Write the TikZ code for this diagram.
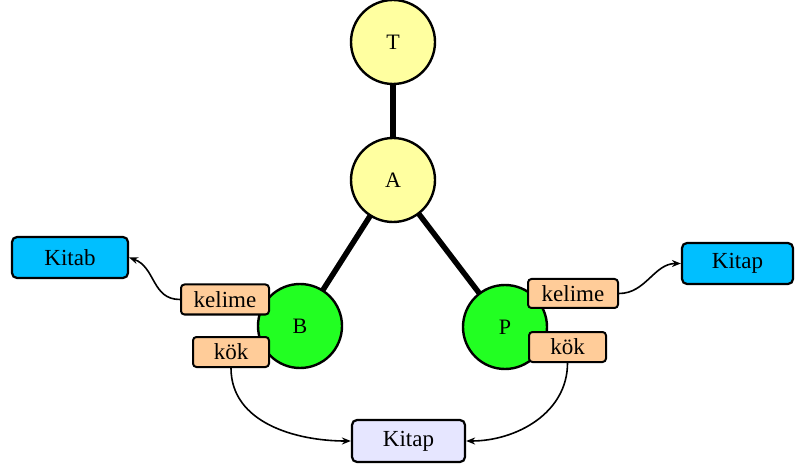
\documentclass[tikz,border=0pt]{standalone}
\usepackage{fontspec}
\setmainfont{Liberation Serif}
\usetikzlibrary{arrows.meta}
\definecolor{cyel}{RGB}{255,255,160}
\definecolor{cgrn}{RGB}{34,255,34}
\definecolor{cpch}{RGB}{255,204,153}
\definecolor{ccyn}{RGB}{0,191,255}
\definecolor{clav}{RGB}{230,230,255}
\tikzset{
  vnode/.style={circle,draw=black,line width=2.4pt,minimum size=84pt,inner sep=0pt,font=\fontsize{22}{24}\selectfont},
  tagbox/.style={rectangle,rounded corners=3.5pt,draw=black,line width=2pt,fill=cpch,inner sep=0pt,font=\fontsize{23}{25}\selectfont},
  bigbox/.style={rectangle,rounded corners=5pt,draw=black,line width=2.2pt,inner sep=0pt,font=\fontsize{23}{25}\selectfont},
  bond/.style={line width=5.5pt},
  link/.style={line width=1.6pt,-{Stealth[length=9pt,width=7pt]}}
}
\begin{document}
\begin{tikzpicture}[x=1pt,y=-1pt]
\useasboundingbox (0,0) rectangle (795,470);
% edges (behind)
\coordinate (cT) at (393,42);
\coordinate (cA) at (393,180);
\coordinate (cB) at (300,326);
\coordinate (cP) at (505,327);
\draw[bond] (cT) -- (cA);
\draw[bond] (cA) -- (cB);
\draw[bond] (cA) -- (cP);
% circles
\node[vnode,fill=cyel] (T) at (cT) {T};
\node[vnode,fill=cyel] (A) at (cA) {A};
\node[vnode,fill=cgrn] (B) at (cB) {B};
\node[vnode,fill=cgrn] (P) at (cP) {P};
% tags
\node[tagbox,minimum width=88pt,minimum height=30pt] (kl) at (225,299.5) {kelime};
\node[tagbox,minimum width=76pt,minimum height=30pt] (okl) at (231,352) {kök};
\node[tagbox,minimum width=90pt,minimum height=29pt] (kr) at (573,293.5) {kelime};
\node[tagbox,minimum width=77pt,minimum height=30pt] (okr) at (567.5,347) {kök};
% big boxes
\node[bigbox,fill=ccyn,minimum width=116pt,minimum height=41pt] (kitab) at (70,257.5) {Kitab};
\node[bigbox,fill=ccyn,minimum width=111pt,minimum height=41pt] (kitapR) at (737.5,263.5) {Kitap};
\node[bigbox,fill=clav,minimum width=113pt,minimum height=42pt] (kitapB) at (408.5,441) {Kitap};
% links
\draw[link] (kl.west) to[out=180,in=-20,looseness=1.1] (kitab.east);
\draw[link] (kr.east) to[out=0,in=180] (kitapR.west);
\draw[link] (okl.south) to[out=-90,in=180] (kitapB.west);
\draw[link] (okr.south) to[out=-90,in=0] (kitapB.east);
\end{tikzpicture}
\end{document}
